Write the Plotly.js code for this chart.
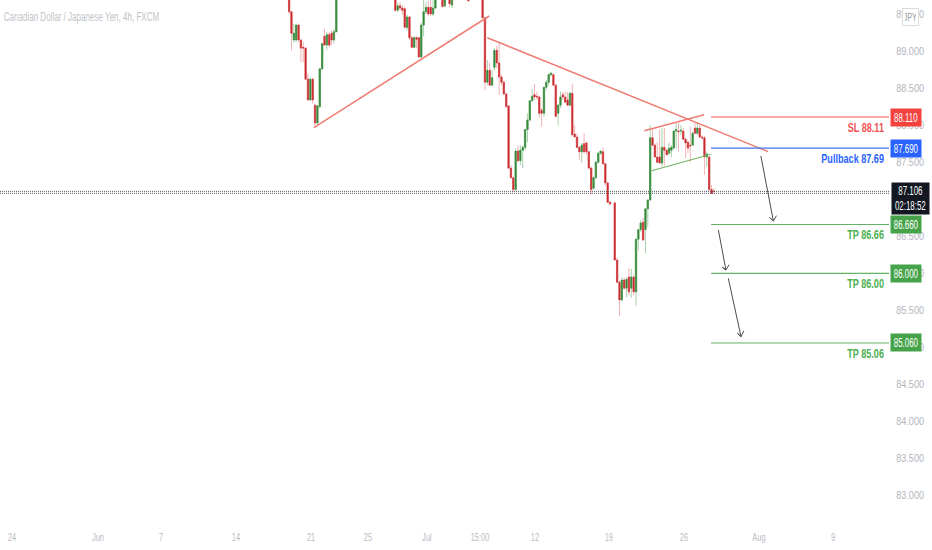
<!DOCTYPE html>
<html>
<head>
<meta charset="utf-8">
<script src="https://cdn.plot.ly/plotly-3.0.1.min.js"></script>
<style>html,body{margin:0;padding:0;background:#fff}#chart{width:932px;height:550px}</style>
</head>
<body>
<div id="chart"></div>
<script>
const barIndex = [-83,-82,-81,-80,-79,-78,-77,-76,-75,-74,-73,-72,-71,-70,-69,-68,-67,-66,-65,-64,-63,
 -38,-37,-36,-35,-34,-33,-32,-31,-30,-29,-28,-27,-26,-25,-24,-23,-22,-21,-18,-17,-15,-14,-7,-1,
 0,1,2,3,4,5,6,7,8,9,10,11,12,13,14,15,16,17,18,19,20,21,22,23,24,25,26,27,28,29,30,31,32,33,34,35,36,37,38,39,40,41,42,43,44,45,46,47,48,49,50,51,52,53,
 55,56,57,58,59,60,61,62,63,64,65,66,67,68,69,
 70,71,72,73,74,75,76,77,78,79,80,81,82,83,84,85,86,87,88,89,90,91,92,93,94,95,96,97];
const openPrice = [89.72,89.53,89.15,89.15,89.35,89.15,89.05,89.04,88.62,88.34,88.62,88.27,88.03,88.25,88.76,89.20,89.08,89.22,89.24,89.15,89.26,
 89.69,89.55,89.61,89.58,89.57,89.32,89.46,89.18,89.05,89.18,89.18,88.92,89.35,89.53,89.59,89.59,89.50,89.58,89.72,89.61,89.72,89.62,89.69,89.75,
 89.45,88.58,88.74,88.54,88.78,89.01,88.84,88.65,88.58,88.42,88.26,87.42,87.29,87.13,87.65,87.52,87.66,87.70,87.94,88.07,88.33,88.41,88.39,88.38,88.20,88.16,88.51,88.58,88.68,88.68,88.54,88.16,88.27,88.41,88.38,88.34,88.27,88.43,87.88,87.84,87.70,87.64,87.75,87.76,87.64,87.42,87.15,87.29,87.50,87.62,87.64,87.48,87.22,86.96,
 86.95,86.18,85.88,85.64,85.91,85.80,85.95,85.80,85.95,85.75,86.46,86.59,86.69,86.59,86.87,
 86.99,87.83,87.73,87.57,87.57,87.49,87.70,87.66,87.62,87.66,87.69,87.92,87.92,87.92,87.92,87.81,87.77,87.73,87.73,87.96,87.89,87.96,87.84,87.83,87.57,87.57,87.13,87.11];
const highPrice = [89.75,89.53,89.37,89.37,89.37,89.15,89.12,89.05,88.70,88.64,88.64,88.29,88.27,88.77,89.11,89.30,89.26,89.26,89.28,89.30,89.76,
 89.75,89.65,89.66,89.62,89.60,89.49,89.47,89.20,89.20,89.20,89.19,89.38,89.69,89.66,89.68,89.72,89.72,89.75,89.74,89.74,89.74,89.74,89.71,89.76,
 89.46,88.88,88.85,88.74,89.04,89.07,89.11,88.68,88.60,88.44,88.27,87.46,87.30,87.69,87.73,87.73,87.73,87.95,88.16,88.34,88.49,88.56,88.45,88.40,88.23,88.52,88.61,88.70,88.72,88.70,88.55,88.28,88.45,88.45,88.45,88.45,88.45,88.56,88.00,87.89,87.72,87.76,87.89,87.78,87.65,87.44,87.31,87.51,87.64,87.66,87.70,87.49,87.23,86.98,
 86.97,86.21,85.90,85.94,85.94,85.94,86.07,86.06,85.98,86.47,86.60,86.72,86.75,86.88,87.00,
 88.00,87.96,87.75,87.77,87.94,87.96,87.96,87.68,87.76,87.73,87.93,88.03,88.03,88.00,87.96,87.83,87.79,87.98,87.91,88.03,88.03,88.00,87.86,87.85,87.64,87.58,87.19,87.15];
const lowPrice = [89.50,89.01,89.12,89.12,89.12,88.85,88.85,88.62,88.34,88.33,88.29,87.96,88.00,88.23,88.74,89.08,89.01,89.05,89.08,89.10,89.26,
 89.53,89.53,89.55,89.49,89.31,89.28,89.15,89.04,89.04,89.04,88.91,88.91,89.20,89.50,89.47,89.47,89.47,89.57,89.59,89.59,89.59,89.58,89.67,89.44,
 88.47,88.54,88.54,88.53,88.74,88.77,88.41,88.54,88.41,88.23,87.41,87.29,87.10,87.12,87.50,87.46,87.42,87.66,87.77,88.05,88.31,88.34,88.34,88.10,87.98,88.11,88.47,88.54,88.66,88.53,88.10,88.00,88.23,88.34,88.30,88.27,88.26,87.86,87.84,87.69,87.53,87.49,87.62,87.60,87.40,87.06,87.13,87.27,87.48,87.60,87.47,87.19,86.95,86.92,
 86.17,85.87,85.42,85.63,85.78,85.68,85.70,85.67,85.70,85.56,86.31,86.56,86.44,86.27,86.63,
 86.98,87.72,87.56,87.49,87.48,87.44,87.45,87.59,87.60,87.57,87.68,87.69,87.64,87.87,87.80,87.56,87.62,87.50,87.72,87.88,87.87,87.83,87.80,87.33,87.44,87.12,87.07,87.06];
const closePrice = [89.53,89.24,89.24,89.35,89.15,89.04,89.04,88.62,88.34,88.62,88.34,88.03,88.26,88.76,89.10,89.08,89.22,89.08,89.15,89.26,89.76,
 89.55,89.61,89.58,89.55,89.32,89.46,89.18,89.05,89.18,89.16,88.92,89.35,89.53,89.59,89.50,89.50,89.58,89.73,89.60,89.72,89.64,89.72,89.68,89.45,
 88.58,88.74,88.54,88.64,89.01,88.84,88.65,88.58,88.42,88.25,87.42,87.29,87.13,87.65,87.52,87.66,87.70,87.94,88.07,88.33,88.39,88.38,88.38,88.16,88.16,88.51,88.58,88.68,88.70,88.54,88.12,88.27,88.38,88.38,88.31,88.27,88.43,87.87,87.84,87.70,87.64,87.73,87.64,87.64,87.42,87.13,87.29,87.50,87.62,87.65,87.48,87.22,86.96,86.94,
 86.18,85.88,85.64,85.91,85.80,85.92,85.75,85.95,85.75,86.46,86.59,86.68,86.45,86.87,86.99,
 87.83,87.73,87.57,87.50,87.49,87.70,87.66,87.60,87.69,87.70,87.92,87.94,87.91,87.93,87.81,87.76,87.69,87.72,87.89,87.89,87.96,87.84,87.83,87.57,87.61,87.13,87.08,87.106];

const xTickVals = [-200.4,-164,-137.3,-105.5,-73.7,-49.6,-24.6,-2.1,21.2,52.5,84.3,116.1,147.5];
const xTickText = ['24','Jun','7','14','21','25','Jul','15:00','12','19','26','Aug','9'];
const yTickVals = [83,83.5,84,84.5,85,85.5,86,86.5,87,87.5,88,88.5,89,89.5];

const trendUpX = [-72.5,1.8],   trendUpY = [87.966,89.473];
const trendDownX = [1,120],     trendDownY = [89.18,87.642];
const channelTopX = [67.5,92.8], channelTopY = [87.925,88.141];
const channelLowX = [70.6,95.8], channelLowY = [87.385,87.607];

const levelStart = 95.8, xLeft = -205.5, xRight = 171.2;
const levelPrices = [88.11,87.69,86.66,86.00,85.06];
const levelColors = ['#f4433f','#2962ff','#46a34a','#46a34a','#46a34a'];
const lineColors = ['#f4534f','#3f72f5','#62b365','#62b365','#62b365'];
const noteColors = ['#ef5350','#2962ff','#4caf50','#4caf50','#4caf50'];
const levelLabels = ['88.110','87.690','86.660','86.000','85.060'];
const levelNotes = ['SL 88.11','Pullback 87.69','TP 86.66','TP 86.00','TP 85.06'];
const lastPrice = 87.106, lastPriceBand = 87.08, countdown = '02:18:52';

const arrowX = [116.9,122.2,120.6,122.2,123.5,null, 98.9,102.1,100.6,102.1,103.4,null, 103.1,108.5,107,108.5,109.7];
const arrowY = [87.584,86.707,86.751,86.707,86.778,null, 86.585,86.045,86.082,86.045,86.117,null, 85.933,85.145,85.191,85.145,85.226];

const FONT = '"Liberation Sans",Arial,sans-serif';
const green = '#37893b', red = '#cc2e32';
const bodyHigh = openPrice.map((o,i)=>Math.max(o,closePrice[i]));
const bodyLow = openPrice.map((o,i)=>Math.min(o,closePrice[i]));

function line(x,y,color,width,dash){
  return {type:'scatter',mode:'lines',x,y,line:{color,width,dash:dash||'solid'},hoverinfo:'skip',connectgaps:false};
}
const traces = [
  {type:'candlestick',x:barIndex,open:openPrice,high:highPrice,low:lowPrice,close:closePrice,
   increasing:{line:{color:'#a9d2ab',width:1},fillcolor:'#a9d2ab'},
   decreasing:{line:{color:'#f0b4b4',width:1},fillcolor:'#f0b4b4'},hoverinfo:'skip'},
  {type:'candlestick',x:barIndex,open:openPrice,high:bodyHigh,low:bodyLow,close:closePrice,
   increasing:{line:{color:green,width:0.5},fillcolor:green},
   decreasing:{line:{color:red,width:0.5},fillcolor:red},hoverinfo:'skip'},
  line([xLeft,xRight],[lastPrice,lastPrice],'#55585f',1,'1px,1px'),
  line([xLeft,xRight],[lastPriceBand,lastPriceBand],'#55585f',1,'1px,1px'),
  line(trendUpX,trendUpY,'#ef7d74',1.5),
  line(trendDownX,trendDownY,'#ef7d74',1.5),
  line(channelTopX,channelTopY,'#ef7d74',1.5),
  line(channelLowX,channelLowY,'#74b468',1.2),
  line(arrowX,arrowY,'#4a4d52',1)
];
levelPrices.forEach((p,i)=>traces.push(line([levelStart,xRight],[p,p],lineColors[i],1.1)));

const annotations = [];
levelPrices.forEach((p,i)=>{
  annotations.push({xref:'paper',yref:'y',x:1.0015,y:p,xanchor:'left',yanchor:'middle',text:levelLabels[i],showarrow:false,
    font:{family:FONT,size:12,color:'#fff'},bgcolor:levelColors[i],width:30,height:17,align:'center',borderpad:0});
  annotations.push({xref:'x',yref:'y',x:171.2,y:p,xanchor:'right',yanchor:'top',yshift:-1,xshift:-3,width:100,align:'right',
    text:'<b>'+levelNotes[i]+'</b>',showarrow:false,font:{family:FONT,size:13,color:noteColors[i]}});
});
annotations.push({xref:'paper',yref:'y',x:1.0025,y:87.01,xanchor:'left',yanchor:'middle',
  text:lastPrice.toFixed(3)+'<br>'+countdown,showarrow:false,font:{family:FONT,size:12,color:'#fff'},
  bgcolor:'#131722',width:37,height:31,align:'center',borderpad:0});
annotations.push({xref:'paper',yref:'paper',x:1.0146,y:0.985,xanchor:'left',yanchor:'top',text:'JPY',showarrow:false,
  font:{family:FONT,size:11,color:'#9598a1'},bgcolor:'#fff',bordercolor:'#dcdde0',borderwidth:1,borderpad:2,width:11});

const layout = {
  width:932,height:550,
  margin:{l:0,r:43,t:0,b:30,pad:0},
  paper_bgcolor:'#fff',plot_bgcolor:'#fff',
  showlegend:false,hovermode:false,boxgap:0.2,
  title:{text:'Canadian Dollar / Japanese Yen, 4h, FXCM',x:0.004,xanchor:'left',y:0.969,yanchor:'middle',
         font:{family:FONT,size:12,color:'#c2c4c9'}},
  xaxis:{range:[xLeft,xRight],rangeslider:{visible:false},showgrid:false,zeroline:false,showline:false,
         tickmode:'array',tickvals:xTickVals,ticktext:xTickText,ticks:'outside',ticklen:7,tickcolor:'rgba(0,0,0,0)',
         tickfont:{family:FONT,size:11,color:'#b9bcc4'}},
  yaxis:{range:[82.671,89.689],side:'right',showgrid:false,zeroline:false,showline:false,
         tickmode:'array',tickvals:yTickVals,ticktext:yTickVals.map(v=>v.toFixed(3)),ticks:'outside',ticklen:4,tickcolor:'rgba(0,0,0,0)',
         tickfont:{family:FONT,size:11,color:'#b2b5be'}},
  annotations
};
// The reference's lettering is condensed: narrow each real text element with SVG textLength.
function condense(el,f){
  const len = el.getComputedTextLength();
  if(len>0){ el.setAttribute('lengthAdjust','spacingAndGlyphs'); el.setAttribute('textLength',(len*f).toFixed(1)); }
}
Plotly.newPlot('chart',traces,layout,{displayModeBar:false,staticPlot:true}).then(gd=>{
  gd.querySelectorAll('svg text').forEach(t=>{
    const note = levelNotes.includes(t.textContent);
    const f = t.closest('.xtick') ? 0.68 : t.closest('.ytick') ? 0.83 : note ? 0.7 : t.closest('.annotation') ? 0.66 : 0.67;
    const lines = t.querySelectorAll('tspan.line');
    if(lines.length){ lines.forEach(l=>condense(l,f)); } else { condense(t,f); }
  });
});
</script>
</body>
</html>
